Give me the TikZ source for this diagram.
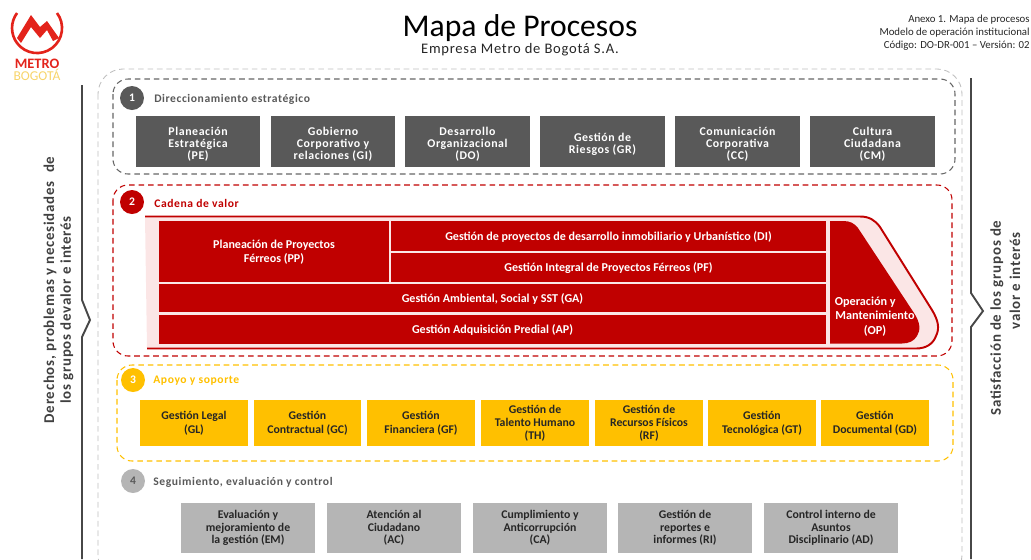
\documentclass[tikz,border=0pt]{standalone}
\usepackage{fontspec}
\setmainfont{Carlito}
\newfontfamily\spaced[LetterSpace=5]{Carlito}
\definecolor{darkgrayfill}{HTML}{595959}
\definecolor{lightgrayfill}{HTML}{B5B5B5}
\definecolor{redfill}{HTML}{C00000}
\definecolor{yellowfill}{HTML}{FFC000}
\definecolor{pinkfill}{HTML}{FBE6E6}
\definecolor{logored}{HTML}{E3231B}
\definecolor{logoyellow}{HTML}{F7D46A}
\definecolor{textdark}{HTML}{262626}
\definecolor{sidetext}{HTML}{404040}
\tikzset{
    stratbox/.style={fill=darkgrayfill,text=white,inner sep=0pt,align=center,minimum width=2.5cm,minimum height=1.02cm,text depth=0pt,text height=20.8pt,font=\spaced\fontsize{6.75}{6.9}\selectfont\bfseries},
    redbox/.style={fill=redfill,text=white,inner sep=0pt,align=center,text depth=0.4pt,font=\fontsize{6.85}{8}\selectfont\bfseries},
    yellowbox/.style={fill=yellowfill,text=textdark,inner sep=0pt,align=center,minimum width=2.16cm,minimum height=0.92cm,text depth=0.8pt,font=\fontsize{6.7}{7.6}\selectfont\bfseries},
    graybox/.style={fill=lightgrayfill,text=textdark,inner sep=0pt,align=center,minimum width=2.68cm,minimum height=1cm,text depth=0.8pt,font=\fontsize{6.7}{7.1}\selectfont\bfseries},
    numcircle/.style={circle,inner sep=0pt,minimum size=0.48cm,font=\fontsize{6.6}{7}\selectfont\bfseries},
    grouplabel/.style={anchor=west,inner sep=0pt,font=\spaced\fontsize{6.6}{7}\selectfont\bfseries},
    sidelabel/.style={rotate=90,inner sep=0pt,text=sidetext,font=\spaced\fontsize{8.5}{9}\selectfont\bfseries},
    headerlabel/.style={anchor=east,inner sep=0pt,text=textdark,font=\fontsize{6.15}{7}\selectfont},
    groupframe/.style={dashed,rounded corners=0.3cm,line width=0.6pt,dash pattern=on 3.2pt off 2.2pt},
    sidebar/.style={draw=black!72,line width=1.1pt}
}
\begin{document}
\begin{tikzpicture}[x=0.02cm,y=-0.02cm]

        \clip (0,0) rectangle (1031,559);

        % logo
        \draw [draw=logored,line width=1.5pt] (57,13) arc (-37:217:25);
        \fill [logored] (17,38) -- (31,15) -- (40,27) -- (47,21) -- (59,38) -- (53,41) -- (47,30) -- (40,38) -- (31,27) -- (21,43) -- cycle;
        \node [inner sep=0pt,text=logored,font=\fontsize{8.2}{9}\selectfont\bfseries] (metro) at (37,63.5) {METRO};
        \node [inner sep=0pt,text=logoyellow,font=\fontsize{7.7}{8}\selectfont] (bogota) at (37,75) {BOGOTÁ};

        % header
        \node [inner sep=0pt,text=black,font=\fontsize{18}{20}\selectfont] (title) at (520,28) {Mapa de Procesos};
        \node [inner sep=0pt,text=textdark,font=\spaced\fontsize{8.3}{9}\selectfont] (subtitle) at (520,49.5) {Empresa Metro de Bogotá S.A.};
        \node [headerlabel] (annex) at (1030,20) {Anexo 1. Mapa de procesos};
        \node [headerlabel] (model) at (1030,33) {Modelo de operación institucional};
        \node [headerlabel] (code) at (1030,46) {Código: DO-DR-001 – Versión: 02};

        % side bars
        \draw [sidebar] (82,85) -- (82,300) -- (90,320) -- (82,337) -- (82,559);
        \draw [sidebar] (971,78) -- (971,293) -- (983,311) -- (971,327) -- (971,559);
        \node [sidelabel] (rights1) at (50,290) {Derechos, problemas y necesidades\ \ de};
        \node [sidelabel] (rights2) at (67,310) {los grupos devalor e interés};
        \node [sidelabel] (satisf1) at (997,318) {Satisfacción de los grupos de};
        \node [sidelabel] (satisf2) at (1015,281) {valor e interés};

        % frames
        \draw [groupframe,draw=black!25,line width=0.5pt,rounded corners=0.5cm] (98,69) rectangle (962,580);
        \draw [groupframe,draw=black!60] (113,79) rectangle (955,174);
        \draw [groupframe,draw=redfill] (113,185) rectangle (952,356);
        \draw [groupframe,draw=yellowfill] (117,365) rectangle (953,461);

        % group 1
        \node [numcircle,fill=darkgrayfill,text=white] (n1) at (132,98) {1};
        \node [grouplabel,text=darkgrayfill] (g1) at (154,99) {Direccionamiento estratégico};
        \node [stratbox] (pe) at (198,141.5) {Planeación\\Estratégica\\(PE)};
        \node [stratbox] (gi) at (333,141.5) {Gobierno\\Corporativo y\\relaciones (GI)};
        \node [stratbox] (do) at (467.5,141.5) {Desarrollo\\Organizacional\\(DO)};
        \node [stratbox,text height=13.9pt] (gr) at (602.5,141.5) {Gestión de\\Riesgos (GR)};
        \node [stratbox] (cc) at (737.5,141.5) {Comunicación\\Corporativa\\(CC)};
        \node [stratbox] (cm) at (872.5,141.5) {Cultura\\Ciudadana\\(CM)};

        % group 2
        \node [numcircle,fill=redfill,text=white] (n2) at (132,202) {2};
        \node [grouplabel,text=redfill] (g2) at (154,203) {Cadena de valor};
        \filldraw [fill=pinkfill,draw=redfill,line width=1.1pt] (145,216.5) -- (860,216.5) .. controls (869,216.5) and (875,220) .. (880,227) -- (932,310) .. controls (938,320) and (940,328) .. (936,336) .. controls (933,344) and (926,348.5) .. (916,348.5) -- (147,348.5);
        \fill [redfill] (830,221) -- (843,221) .. controls (850,221) and (854,223) .. (858,228) -- (914,313) .. controls (920,322) and (921,330) .. (917,336) .. controls (914,341) and (909,343.5) .. (902,343.5) -- (830,343.5) -- cycle;
        \node [redbox,minimum width=4.6cm,minimum height=1.22cm] (pp) at (274,251.5) {Planeación de Proyectos\\Férreos (PP)};
        \node [redbox,minimum width=8.7cm,minimum height=0.6cm] (di) at (608.5,236) {Gestión de proyectos de desarrollo inmobiliario y Urbanístico (DI)};
        \node [redbox,minimum width=8.7cm,minimum height=0.58cm] (pf) at (608.5,267.5) {Gestión Integral de Proyectos Férreos (PF)};
        \node [redbox,minimum width=13.34cm,minimum height=0.56cm] (ga) at (492.5,298) {Gestión Ambiental, Social y SST (GA)};
        \node [redbox,minimum width=13.34cm,minimum height=0.58cm] (ap) at (492.5,329) {Gestión Adquisición Predial (AP)};
        \node [inner sep=0pt,align=center,text=white,font=\fontsize{6.95}{8.2}\selectfont\bfseries] (op) at (875,316.5) {Operación y\hspace*{11pt}\\Mantenimiento\\(OP)};

        % group 3
        \node [numcircle,fill=yellowfill,text=white] (n3) at (133,380) {3};
        \node [grouplabel,text=yellowfill] (g3) at (153,381) {Apoyo y soporte};
        \node [yellowbox] (gl) at (194,423) {Gestión Legal\\(GL)};
        \node [yellowbox] (gc) at (307.5,423) {Gestión\\Contractual (GC)};
        \node [yellowbox] (gf) at (421,423) {Gestión\\Financiera (GF)};
        \node [yellowbox] (th) at (535,423) {Gestión de\\Talento Humano\\(TH)};
        \node [yellowbox] (rf) at (649,423) {Gestión de\\Recursos Físicos\\(RF)};
        \node [yellowbox] (gt) at (762,423) {Gestión\\Tecnológica (GT)};
        \node [yellowbox] (gd) at (875,423) {Gestión\\Documental (GD)};

        % group 4
        \node [numcircle,fill=lightgrayfill,text=darkgrayfill] (n4) at (133,481) {4};
        \node [grouplabel,text=darkgrayfill] (g4) at (153,482) {Seguimiento, evaluación y control};
        \node [graybox] (em) at (248,528) {Evaluación y\\mejoramiento de\\la gestión (EM)};
        \node [graybox] (ac) at (394,528) {Atención al\\Ciudadano\\(AC)};
        \node [graybox] (ca) at (540,528) {Cumplimiento y\\Anticorrupción\\(CA)};
        \node [graybox] (ri) at (685,528) {Gestión de\\reportes e\\informes (RI)};
        \node [graybox] (ad) at (831,528) {Control interno de\\Asuntos\\Disciplinario (AD)};
    \end{tikzpicture}
\end{document}
